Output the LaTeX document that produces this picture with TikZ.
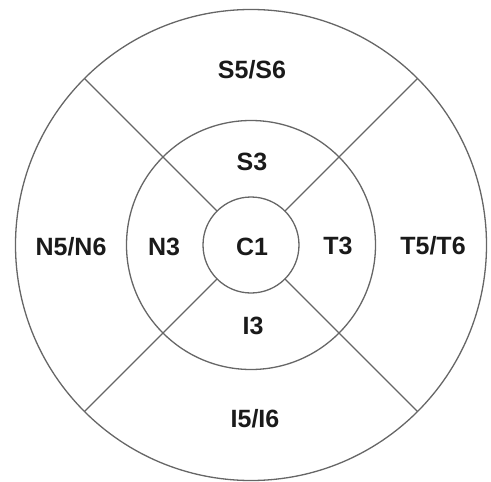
\documentclass[tikz,border=0pt]{standalone}
\usepackage{fontspec}
\setmainfont{Liberation Sans}
\usetikzlibrary{calc}
\definecolor{ringgray}{HTML}{666666}
\definecolor{labelink}{HTML}{1A1A1A}
\begin{document}
\begin{tikzpicture}[x=1pt,y=-1pt,
  ring/.style={draw=ringgray,line width=1.3pt},
  zone/.style={font=\bfseries\fontsize{25}{28}\selectfont,text=labelink,inner sep=0pt}]
\useasboundingbox (0,0) rectangle (491,482);
\coordinate (c) at (251,245);
% rings: outer, middle, centre
\draw[ring] (c) circle[radius=235.5];
\draw[ring] (c) circle[radius=124.5];
\draw[ring] (c) circle[radius=48];
% diagonal dividers between the centre ring and the outer ring
\foreach \a in {45,135,225,315}
  \draw[ring] ($(c)+(\a:48)$) -- ($(c)+(\a:235.5)$);
% zone labels
\node[zone] (s56) at (252,70) {S5/S6};
\node[zone] (s3)  at (252,162) {S3};
\node[zone] (n56) at (71,247) {N5/N6};
\node[zone] (n3)  at (164,247) {N3};
\node[zone] (c1)  at (252,247) {C1};
\node[zone] (t3)  at (338,246) {T3};
\node[zone] (t56) at (433,246) {T5/T6};
\node[zone] (i3)  at (253,326) {I3};
\node[zone] (i56) at (255,419) {I5/I6};
\end{tikzpicture}
\end{document}
